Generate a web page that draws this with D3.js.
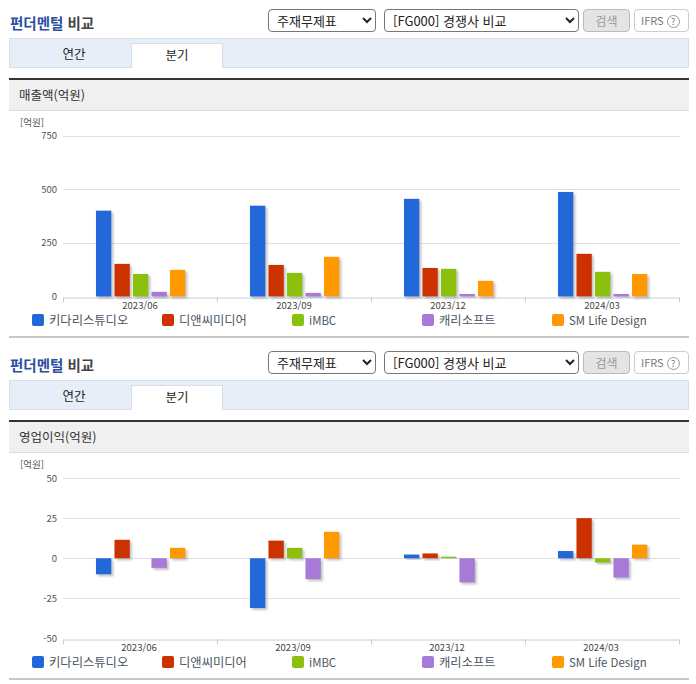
<!DOCTYPE html>
<html lang="ko">
<head>
<meta charset="utf-8">
<script src="https://cdn.jsdelivr.net/npm/d3@7"></script>
<style>
  html, body { margin: 0; padding: 0; background: #fff; }
  body { width: 696px; height: 684px; position: relative; overflow: hidden; font-family: "Noto Sans CJK KR", "Noto Sans", sans-serif; color: #333; }
  #page { position: absolute; left: 0; top: 0; width: 696px; height: 684px; }
  .abs { position: absolute; box-sizing: border-box; white-space: nowrap; }
  .title { font-size: 14.5px; font-weight: 700; color: #444; line-height: 20px; }
  .title span { color: #2b4f9f; }
  select { display: block; font-family: inherit; font-size: 13px; color: #222; background: #fff; border: 1px solid #777; border-radius: 4px; padding: 0 0 0 4px; margin: 0; }
  .btn { border: 1px solid #bbb; border-radius: 4px; background: #e4e4e4; color: #999; font-size: 12px; text-align: center; line-height: 21px; }
  .ifrs { border: 1px solid #ccc; border-radius: 4px; background: #fff; color: #777; font-size: 11px; line-height: 21px; padding-left: 6px; }
  .ifrs i { display: inline-block; width: 13px; height: 13px; margin-left: 3px; border: 1px solid #999; border-radius: 50%; box-sizing: border-box; font-style: normal; font-size: 9px; line-height: 11px; text-align: center; vertical-align: 0; }
  .tabbar { background: #e8eef8; border: 1px solid #d6deea; }
  .tab { font-size: 12.5px; text-align: center; color: #222; }
  .tab.on { background: #fff; border: 1px solid #d6deea; border-bottom: 0; }
  .rule { background: #333; }
  .head { background: #f0f0f0; border-bottom: 1px solid #ddd; font-size: 12.5px; color: #333; line-height: 29px; padding-left: 10px; }
  .foot { background: #c8c8c8; }
  svg { position: absolute; left: 0; top: 0; }
  svg text { font-family: "Noto Sans CJK KR", "Noto Sans", sans-serif; }
</style>
</head>
<body>
<div id="page"></div>
<script>
const seriesNames = ['키다리스튜디오', '디앤씨미디어', 'iMBC', '캐리소프트', 'SM Life Design'];
const seriesColors = ['#2068d8', '#cc3300', '#8cc00f', '#a87ad8', '#ff9900'];
const quarters = ['2023/06', '2023/09', '2023/12', '2024/03'];

const kidari = [400, 423, 455, 487];
const dnc = [152, 147, 133, 199];
const imbc = [105, 110, 129, 115];
const carry = [22, 17, 12, 12];
const smLife = [124, 185, 73, 105];

const kidariOp = [-10, -31, 2.3, 4.5];
const dncOp = [11.5, 11, 3, 25];
const imbcOp = [0, 6.5, 1, -2.7];
const carryOp = [-6, -13, -15, -12];
const smLifeOp = [6.5, 16.5, 0, 8.5];

const revenueTicks = [0, 250, 500, 750];
const profitTicks = [-50, -25, 0, 25, 50];

const legendX = [32, 162, 292, 422, 552];

const page = d3.select('#page');
const svg = page.append('svg').attr('width', 696).attr('height', 684);

const defs = svg.append('defs');
const shadow = defs.append('filter').attr('id', 'shadow')
  .attr('x', '-30%').attr('y', '-30%').attr('width', '170%').attr('height', '170%');
shadow.append('feDropShadow')
  .attr('dx', 2).attr('dy', 2).attr('stdDeviation', 0.8)
  .attr('flood-color', '#888').attr('flood-opacity', 0.5);

function box(cls, left, top, width, height, parent) {
  return (parent || page).append('div').attr('class', 'abs ' + cls)
    .style('left', left + 'px').style('top', top + 'px')
    .style('width', width + 'px').style('height', height + 'px');
}

function drawToolbar(dy) {
  const title = box('title', 10, 13 + dy, 110, 20);
  title.append('span').text('펀더멘털');
  title.append('tspan').text(' 비교');

  box('', 268, 9 + dy, 108, 23).append('select')
    .style('width', '108px').style('height', '23px')
    .append('option').text('주재무제표');
  box('', 384, 9 + dy, 195, 23).append('select')
    .style('width', '195px').style('height', '23px')
    .append('option').text('[FG000] 경쟁사 비교');
  box('btn', 583, 9 + dy, 47, 23).text('검색');
  const ifrs = box('ifrs', 634, 9 + dy, 55, 23).text('IFRS');
  ifrs.append('i').text('?');

  box('tabbar', 9, 38 + dy, 680, 30);
  box('tab', 20, 38 + dy, 108, 30).style('line-height', '31px').text('연간');
  box('tab on', 131, 43 + dy, 92, 25).style('line-height', '21px').text('분기');
  box('rule', 9, 78 + dy, 680, 2);
}

function drawChart(opts) {
  const dy = opts.dy;
  drawToolbar(dy);
  box('head', 9, 80 + dy, 680, 31).text(opts.title);
  box('foot', 9, 336 + dy, 680, 2);

  const x0 = d3.scaleBand().domain(quarters).range([63, 679]);
  const x1 = d3.scaleBand().domain(seriesNames).range([31.4, 123.9])
    .paddingInner(0.17).paddingOuter(0.085);
  const y = d3.scaleLinear().domain(opts.domain).range([opts.bottom + dy, opts.top + dy]);

  const g = svg.append('g');

  // grid, drawn under the bars
  g.append('g').selectAll('line')
    .data(opts.ticks.filter(d => d !== opts.domain[0]))
    .join('line')
    .attr('x1', 63).attr('x2', 680)
    .attr('y1', d => Math.round(y(d)) + 0.5).attr('y2', d => Math.round(y(d)) + 0.5)
    .attr('stroke', '#dcdfe3');

  // plain hyphen on negatives, as in the original
  const yAxis = g.append('g')
    .attr('transform', 'translate(57,0)')
    .call(d3.axisLeft(y).tickValues(opts.ticks).tickFormat(d => String(d)).tickSize(0).tickPadding(0));
  yAxis.select('.domain').remove();
  yAxis.selectAll('text').attr('font-size', 9.5).attr('fill', '#555');

  const xAxis = g.append('g')
    .attr('transform', `translate(0,${Math.round(y(opts.domain[0])) + 0.5})`)
    .call(d3.axisBottom(x0).tickSize(0).tickPadding(4.5));
  xAxis.select('.domain').attr('stroke', '#c0d0e0');
  xAxis.selectAll('text').attr('font-size', 9.5).attr('fill', '#444').attr('dx', opts.labelShift);
  // ticks sit between the quarters
  xAxis.append('g').selectAll('line')
    .data(quarters.map(q => x0(q)).concat([x0.range()[1]]))
    .join('line')
    .attr('x1', d => d + 0.5).attr('x2', d => d + 0.5)
    .attr('y1', 0).attr('y2', 5)
    .attr('stroke', '#c0d0e0');

  seriesNames.forEach((name, i) => {
    g.append('g').selectAll('rect')
      .data(opts.values[i])
      .join('rect')
      .attr('x', (d, j) => x0(quarters[j]) + x1(name))
      .attr('width', x1.bandwidth())
      .attr('y', d => Math.min(y(d), y(0)))
      .attr('height', d => Math.abs(y(d) - y(0)))
      .attr('fill', seriesColors[i])
      .attr('filter', d => d === 0 ? null : 'url(#shadow)');
  });

  g.append('text')
    .attr('x', 20).attr('y', 126 + dy)
    .attr('font-size', 9.5).attr('fill', '#555')
    .text('[억원]');

  const legend = g.append('g').selectAll('g')
    .data(seriesNames)
    .join('g')
    .attr('transform', (d, i) => `translate(${legendX[i]},${314 + dy})`);
  legend.append('rect')
    .attr('width', 12).attr('height', 12).attr('rx', 2)
    .attr('fill', (d, i) => seriesColors[i]);
  legend.append('text')
    .attr('x', 17).attr('y', 11)
    .attr('font-size', d => /[가-힣]/.test(d) ? 12.3 : 11.4)
    .attr('fill', '#4a5560')
    .text(d => d);
}

drawChart({
  dy: 0,
  title: '매출액(억원)',
  top: 135.5,
  bottom: 296.5,
  domain: [0, 750],
  ticks: revenueTicks,
  labelShift: 0,
  values: [kidari, dnc, imbc, carry, smLife]
});

drawChart({
  dy: 342,
  title: '영업이익(억원)',
  top: 136,
  bottom: 296.5,
  domain: [-50, 50],
  ticks: profitTicks,
  labelShift: -1,
  values: [kidariOp, dncOp, imbcOp, carryOp, smLifeOp]
});
</script>
</body>
</html>
